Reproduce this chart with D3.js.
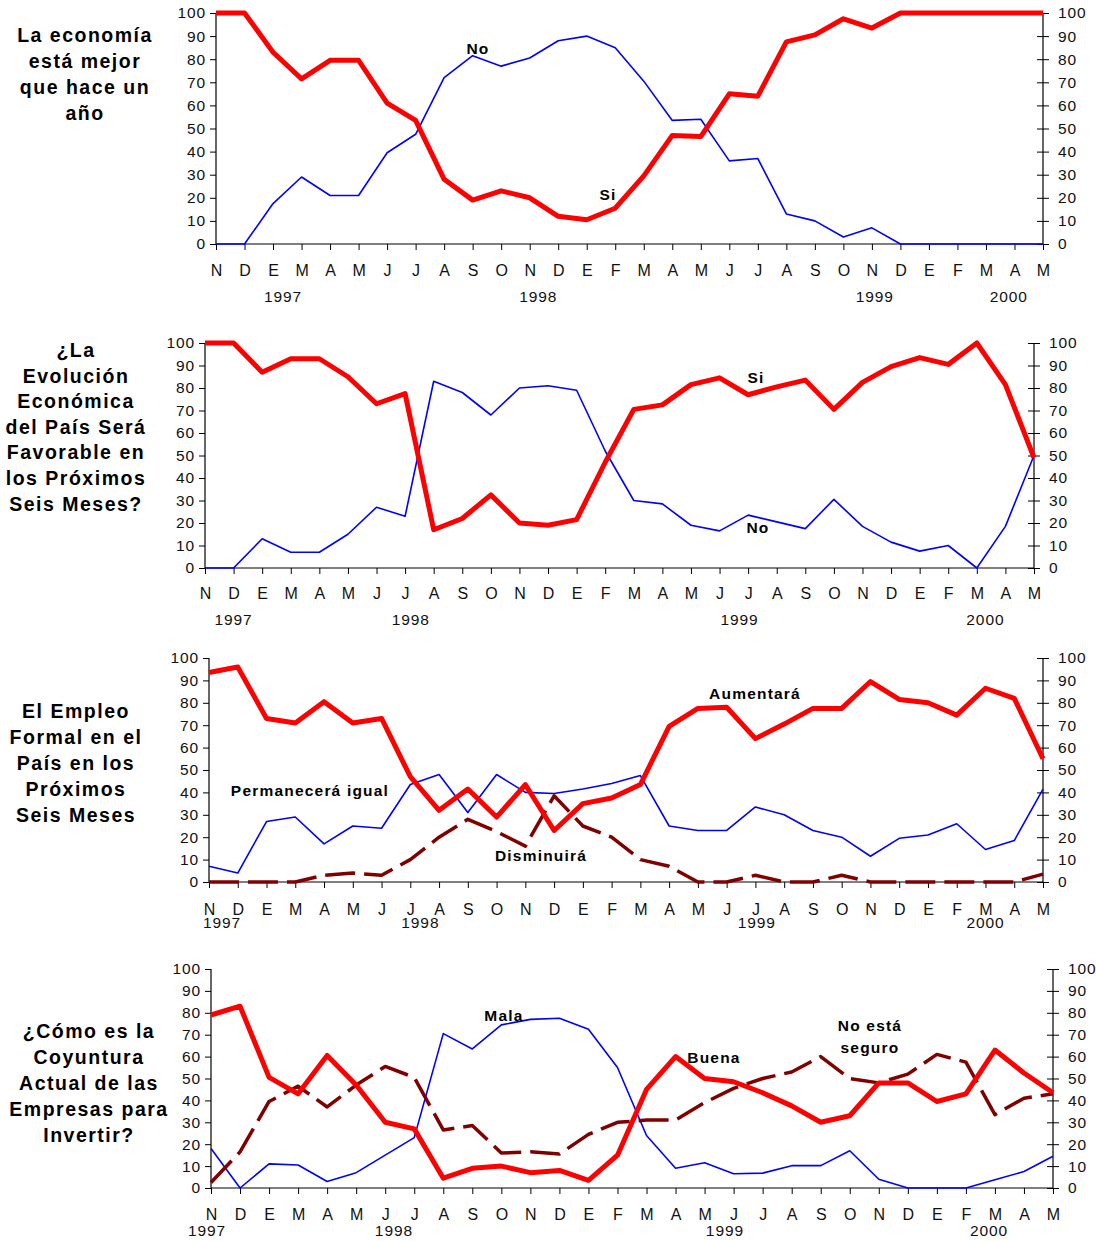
<!DOCTYPE html>
<html>
<head>
<meta charset="utf-8">
<script src="https://cdn.jsdelivr.net/npm/d3@7"></script>
<style>
  body { margin: 0; background: #fff; }
  text { font-family: "Liberation Sans", Arial, sans-serif; }
</style>
</head>
<body>
<div id="chart"></div>
<script>
// meses de la encuesta (nov 1997 - may 2000), sin febrero 1998
var months = ["N","D","E","M","A","M","J","J","A","S","O","N","D","E","F","M","A","M","J","J","A","S","O","N","D","E","F","M","A","M"];
var years = ["1997","1998","1999","2000"];
var yTicks = [0,10,20,30,40,50,60,70,80,90,100];

// panel 1: la economia esta mejor que hace un año
var p1Si = [100,100,83,71.5,79.5,79.5,61,53.5,28,19,23,20,12,10.5,15.5,29.5,47,46.5,65,64,87.5,90.5,97.5,93.5,100,100,100,100,100,100];
var p1No = [0,0,17.5,29,21,21,39.5,47.5,72,81.5,77,80.5,88,90,85,70.5,53.5,54,36,37,13,10,3,7,0,0,0,0,0,0];

// panel 2: evolucion economica favorable
var p2Si = [100,100,87,93,93,85,73,77.5,17,22,32.5,20,19,21.5,47,70.5,72.5,81.5,84.5,77,80.5,83.5,70.5,82.5,89.5,93.5,90.5,100,81.5,49];
var p2No = [0,0,13,7,7,15,27,23,83,78,68,80,81,79,52,30,28.5,19,16.5,23.5,20.5,17.5,30.5,18.5,11.5,7.5,10,0,18.5,50];

// panel 3: empleo formal
var p3Aum = [93.5,96,73,71,80.5,71,73,47,32,41.5,29,43.5,23,35,37.5,43.5,69.5,77.5,78,64,70.5,77.5,77.5,89.5,81.5,80,74.5,86.5,82,55];
var p3Igual = [7,4,27,29,17,25,24,43.5,48,31,48,40,39.5,41.5,44,47.5,25,23,23,33.5,30,23,20,11.5,19.5,21,26,14.5,18.5,41.5];
var p3Dis = [0,0,0,0,3,4,3,10,20,28,22.5,16,38.5,25,20,10,7,0,0,3,0,0,3,0,0,0,0,0,0,3.5];

// panel 4: coyuntura actual para invertir
var p4Buena = [79,83,50.5,43,60.5,47,30,27,4.5,9,10,7,8,3.5,15,45,60,50,48.5,43.5,37.5,30,33,48,48,39.5,43,63,52.5,43.5];
var p4Mala = [18,0,11,10.5,3,7,15,23,70.5,63.5,74.5,77,77.5,72.5,55,24,9,11.5,6.5,6.8,10.2,10.2,17,4,0,0,0,3.8,7.5,14.5];
var p4NoSeg = [2.5,16.5,39.5,46.5,37,47,55.5,50.5,26.5,28.5,16,16.5,15.5,24.5,30,31,31,39,45.5,50,53,60,50,48,52,61,57.5,33.5,41,43];

// titulos
var titles = [
  ["La economía","está mejor","que hace un","año"],
  ["¿La","Evolución","Económica","del País Será","Favorable en","los Próximos","Seis Meses?"],
  ["El Empleo","Formal en el","País en los","Próximos","Seis Meses"],
  ["¿Cómo es la","Coyuntura","Actual de las","Empresas para","Invertir?"]
];

// posicion de los años (indice de mes, fraccional)
var yearPos = [
  [2.35, 11.3, 23.1, 27.8],
  [1.0, 7.2, 18.7, 27.3],
  [0.45, 7.35, 19.05, 27],
  [-0.14, 6.3, 17.7, 26.8]
];

var redC = "#ff0000", blueC = "#0000ff", darkC = "#800000";

var panels = [
  {left:216, right:1043, top:13, bottom:244, titleX:85, titleY:35, lineH:26, monthY:270, yearY:296,
   series:[{v:p1No,t:"blue"},{v:p1Si,t:"red"}],
   labels:[{t:"No",x:478,y:48},{t:"Si",x:608,y:194}]},
  {left:205, right:1034, top:343, bottom:568, titleX:76, titleY:350, lineH:25.6, monthY:593, yearY:619,
   series:[{v:p2No,t:"blue"},{v:p2Si,t:"red"}],
   labels:[{t:"Si",x:756,y:377},{t:"No",x:758,y:527}]},
  {left:209, right:1043, top:658, bottom:882, titleX:76, titleY:711, lineH:26, monthY:909, yearY:922,
   series:[{v:p3Igual,t:"blue"},{v:p3Dis,t:"dark"},{v:p3Aum,t:"red"}],
   labels:[{t:"Aumentará",x:755,y:693},{t:"Permanecerá igual",x:310,y:790},{t:"Disminuirá",x:541,y:855}]},
  {left:211, right:1053, top:969, bottom:1188, titleX:89, titleY:1031, lineH:26, monthY:1214, yearY:1230,
   series:[{v:p4Mala,t:"blue"},{v:p4NoSeg,t:"dark"},{v:p4Buena,t:"red"}],
   labels:[{t:"Mala",x:504,y:1015},{t:"Buena",x:714,y:1057},{t:"No está",x:870,y:1025},{t:"seguro",x:870,y:1047}]}
];

var svg = d3.select("#chart").append("svg")
  .attr("width", 1096)
  .attr("height", 1241);

function styleLine(sel, t) {
  if (t == "red") {
    sel.style("stroke", redC).style("stroke-width", 5);
  } else if (t == "blue") {
    sel.style("stroke", blueC).style("stroke-width", 1.6);
  } else {
    sel.style("stroke", darkC).style("stroke-width", 3.5).style("stroke-dasharray", "30,9");
  }
}

function drawPanel(p, k) {
  var g = svg.append("g");
  var x = d3.scaleLinear().domain([0, months.length-1]).range([p.left, p.right]);
  var y = d3.scaleLinear().domain([0, 100]).range([p.bottom, p.top]);

  // eje izquierdo
  var yl = g.append("g")
    .attr("transform", "translate(" + p.left + ",0)")
    .call(d3.axisLeft(y).tickValues(yTicks).tickSize(6).tickPadding(4));
  // eje derecho
  var yr = g.append("g")
    .attr("transform", "translate(" + p.right + ",0)")
    .call(d3.axisRight(y).tickValues(yTicks).tickSize(6).tickPadding(9));
  yr.selectAll(".tick line").attr("x1", -6);
  // eje x
  var xa = g.append("g")
    .attr("transform", "translate(0," + p.bottom + ")")
    .call(d3.axisBottom(x).tickValues(d3.range(months.length))
      .tickFormat(function(i) { return months[i]; }).tickSize(6));
  xa.selectAll("text").attr("y", 0).attr("dy", null)
    .attr("transform", "translate(0," + (p.monthY - p.bottom) + ")")
    .attr("dominant-baseline", "central");

  [yl, yr, xa].forEach(function(a) {
    a.select(".domain").style("stroke", "#000").style("stroke-width", 1.2);
    a.selectAll(".tick line").style("stroke", "#000");
    a.selectAll("text").style("font-size", "15.5px").style("fill", "#111")
      .style("letter-spacing", "0.9px")
      .style("font-family", "'Liberation Sans', Arial, sans-serif");
  });
  xa.selectAll("text").style("letter-spacing", null).style("font-size", "16px");
  // sin marcas extremas en el dominio
  yl.select(".domain").attr("d", "M0," + y(100) + "V" + y(0));
  yr.select(".domain").attr("d", "M0," + y(100) + "V" + y(0));
  xa.select(".domain").attr("d", "M" + p.left + ",0H" + p.right);

  // años
  g.selectAll(".year").data(years).enter()
    .append("text")
    .attr("x", function(d, i) { return x(yearPos[k][i]); })
    .attr("y", p.yearY)
    .attr("text-anchor", "middle")
    .attr("dominant-baseline", "central")
    .style("font-size", "15.5px")
    .style("letter-spacing", "0.9px")
    .style("fill", "#111")
    .text(function(d) { return d; });

  // lineas
  var line = d3.line()
    .x(function(d, i) { return x(i); })
    .y(function(d) { return y(d); });
  p.series.forEach(function(s) {
    var path = g.append("path")
      .datum(s.v)
      .attr("d", line)
      .style("fill", "none")
      .style("stroke-linejoin", "round");
    styleLine(path, s.t);
  });

  // etiquetas de series
  g.selectAll(".lbl").data(p.labels).enter()
    .append("text")
    .attr("x", function(d) { return d.x; })
    .attr("y", function(d) { return d.y; })
    .attr("text-anchor", "middle")
    .attr("dominant-baseline", "central")
    .style("font-size", "15.5px")
    .style("letter-spacing", "1.2px")
    .style("font-weight", "bold")
    .style("fill", "#000")
    .text(function(d) { return d.t; });

  // titulo
  g.selectAll(".title").data(titles[k]).enter()
    .append("text")
    .attr("x", p.titleX)
    .attr("y", function(d, i) { return p.titleY + i * p.lineH; })
    .attr("text-anchor", "middle")
    .attr("dominant-baseline", "central")
    .style("font-size", "19.5px")
    .style("letter-spacing", "1.5px")
    .style("font-weight", "bold")
    .style("fill", "#000")
    .text(function(d) { return d; });
}

panels.forEach(drawPanel);
</script>
</body>
</html>
